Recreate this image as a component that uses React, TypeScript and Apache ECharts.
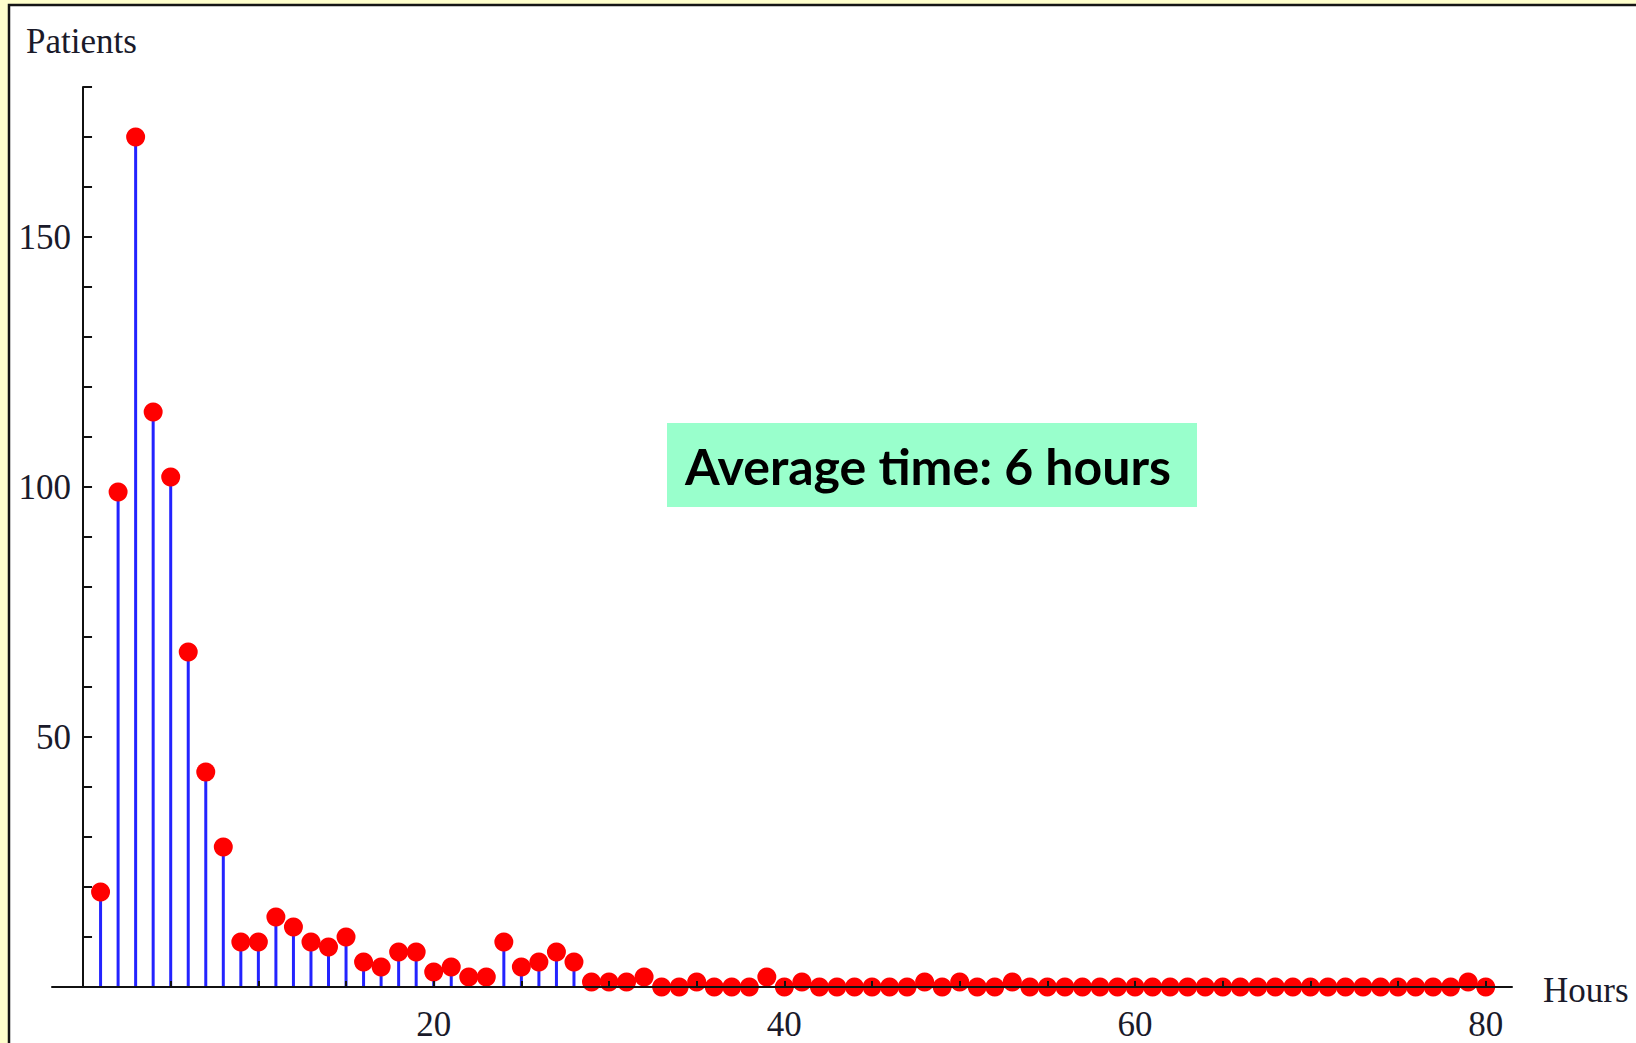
import React, { useEffect, useRef } from "react";
import * as echarts from "echarts";

const hours: number[] = Array.from({ length: 80 }, (_, i) => i + 1);
const patients: number[] = [
  19, 99, 170, 115, 102, 67, 43, 28, 9, 9,
  14, 12, 9, 8, 10, 5, 4, 7, 7, 3,
  4, 2, 2, 9, 4, 5, 7, 5, 1, 1,
  1, 2, 0, 0, 1, 0, 0, 0, 2, 0,
  1, 0, 0, 0, 0, 0, 0, 1, 0, 1,
  0, 0, 1, 0, 0, 0, 0, 0, 0, 0,
  0, 0, 0, 0, 0, 0, 0, 0, 0, 0,
  0, 0, 0, 0, 0, 0, 0, 0, 1, 0,
];
const xTickValues: number[] = [5, 10, 15, 20, 25, 30, 35, 40, 45, 50, 55, 60, 65, 70, 75, 80];
const xLabelValues: number[] = [20, 40, 60, 80];
const yLabelValues: number[] = [50, 100, 150];
const yAxisTitle = "Patients";
const xAxisTitle = "Hours";
const noteText = "Average time: 6 hours";

export default function App() {
  const ref = useRef<HTMLDivElement>(null);
  useEffect(() => {
    if (!ref.current) return;
    const chart = echarts.init(ref.current, null, { renderer: "svg" });
    const pts = hours.map((h, i) => [h, patients[i]]);
    const serif = "'Liberation Serif', 'DejaVu Serif', serif";
    chart.setOption({
      animation: false,
      backgroundColor: "#FFFFCC",
      grid: { left: 52, top: 87, width: 1460, height: 900, outerBoundsMode: "none" },
      xAxis: {
        type: "value",
        min: -1.77,
        max: 81.5,
        z: 5,
        splitLine: { show: false },
        axisLine: { show: true, lineStyle: { color: "#111", width: 2 } },
        axisTick: { show: true, inside: true, length: 6, customValues: xTickValues, lineStyle: { color: "#111", width: 2 } },
        axisLabel: {
          customValues: xLabelValues,
          margin: 20,
          fontFamily: serif,
          fontSize: 35,
          color: "#1a1a2a",
        },
      },
      yAxis: {
        type: "value",
        min: 0,
        max: 180,
        interval: 10,
        splitLine: { show: false },
        axisLine: { show: true, onZero: true, lineStyle: { color: "#111", width: 2 } },
        axisTick: { show: true, inside: true, length: 9, lineStyle: { color: "#111", width: 2 } },
        axisLabel: {
          margin: -19,
          fontFamily: serif,
          fontSize: 35,
          color: "#1a1a2a",
          formatter: (v: number) => (yLabelValues.indexOf(v) >= 0 ? String(v) : ""),
        },
      },
      graphic: [
        {
          type: "rect",
          z: -10,
          shape: { x: 9, y: 5, width: 1800, height: 1200 },
          style: { fill: "#ffffff", stroke: "#151515", lineWidth: 2.5 },
        },
        {
          type: "text",
          x: 26,
          y: 41,
          style: { text: yAxisTitle, font: `35px ${serif}`, fill: "#1a1a2a", verticalAlign: "middle", align: "left" },
        },
        {
          type: "text",
          x: 1543,
          y: 990,
          style: { text: xAxisTitle, font: `35px ${serif}`, fill: "#1a1a2a", verticalAlign: "middle", align: "left" },
        },
        {
          type: "rect",
          shape: { x: 667, y: 423, width: 530, height: 84 },
          style: { fill: "#99FFCC" },
        },
        {
          type: "text",
          x: 928,
          y: 466,
          style: { text: noteText, font: "bold 50px Lato, 'Liberation Sans', sans-serif", fill: "#000", verticalAlign: "middle", align: "center" },
        },
      ],
      series: [
        {
          type: "bar",
          data: pts,
          barWidth: 3,
          itemStyle: { color: "#2323ff" },
          z: 2,
        },
        {
          type: "scatter",
          data: pts,
          symbol: "circle",
          symbolSize: 19,
          itemStyle: { color: "#ff0000", opacity: 1 },
          z: 3,
        },
      ],
    });
    return () => chart.dispose();
  }, []);
  return <div ref={ref} style={{ position: "absolute", left: 0, top: 0, width: 1636, height: 1043 }} />;
}
